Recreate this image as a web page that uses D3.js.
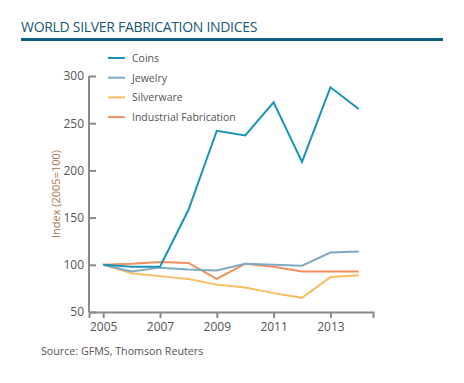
<!DOCTYPE html>
<html><head><meta charset="utf-8">
<script src="https://cdn.jsdelivr.net/npm/d3@7"></script>
<style>body{margin:0;background:#fff;font-family:"Open Sans","DejaVu Sans",sans-serif;}</style>
</head><body><svg id="c" width="464" height="383"></svg>
<script>
const years = [2005,2006,2007,2008,2009,2010,2011,2012,2013,2014];
const coins = [100,98,98,158,242,237,272,209,288,265];
const jewelry = [100,93,97,95,94,101,100,99,113,114];
const silverware = [100,91,88,85,79,76,70,65,87,89];
const industrial = [100,101,103,102,85,101,98,93,93,93];
const seriesNames = ["Coins","Jewelry","Silverware","Industrial Fabrication"];
const seriesColors = ["#1a93b8","#7eaac2","#fbbd64","#f0905c"];
const xTicks = [2005,2007,2009,2011,2013];
const yTicks = [50,100,150,200,250,300];

const svg = d3.select("#c");
const x = d3.scaleLinear().domain([2004.5,2014.5]).range([89,373]);
const y = d3.scaleLinear().domain([50,300]).range([312,76]);

svg.append("text").attr("x",21).attr("y",32).attr("font-size",14).attr("fill","#1b5674")
  .attr("font-family","'Open Sans',sans-serif").attr("letter-spacing","-0.3")
  .text("WORLD SILVER FABRICATION INDICES");
svg.append("rect").attr("x",21).attr("y",38).attr("width",422).attr("height",3).attr("fill","#0e5f82");

const gy = svg.append("g").attr("transform","translate(89,0)")
  .call(d3.axisLeft(y).tickValues(yTicks).tickSize(-7).tickSizeOuter(0).tickPadding(5));
const gx = svg.append("g").attr("transform","translate(0,312)")
  .call(d3.axisBottom(x).tickValues(xTicks).tickFormat(d3.format("d")).tickSize(6).tickSizeOuter(6).tickPadding(4));
[gx,gy].forEach(g=>{
  g.selectAll("path,line").attr("stroke","#8a8a8a").attr("stroke-width",2);
  g.selectAll("text").attr("fill","#555").attr("font-size",12).attr("font-family","'Open Sans',sans-serif");
});
gy.select(".domain").attr("d","M0,76V312");

svg.append("text").attr("transform","translate(60,194) rotate(-90)").attr("text-anchor","middle")
  .attr("font-size",11).attr("fill","#a8734f").attr("font-family","'Open Sans',sans-serif")
  .text("Index (2005=100)");

const all = [coins,jewelry,silverware,industrial];
const line = d3.line().x((d,i)=>x(years[i])).y(d=>y(d));
[3,2,1,0].forEach(k=>{
  svg.append("path").attr("d",line(all[k])).attr("fill","none")
    .attr("stroke",seriesColors[k]).attr("stroke-width",2).attr("stroke-linejoin","miter");
});

const lg = svg.append("g");
seriesNames.forEach((n,i)=>{
  const yy = 58 + i*19.7;
  lg.append("line").attr("x1",108).attr("x2",125).attr("y1",yy).attr("y2",yy)
    .attr("stroke",seriesColors[i]).attr("stroke-width",2);
  lg.append("text").attr("x",132).attr("y",yy+4).attr("font-size",10.5).attr("fill","#555")
    .attr("font-family","'Open Sans',sans-serif").text(n);
});

svg.append("text").attr("x",41).attr("y",355).attr("font-size",10.7).attr("fill","#555")
  .attr("font-family","'Open Sans',sans-serif").text("Source: GFMS, Thomson Reuters");
</script></body></html>
